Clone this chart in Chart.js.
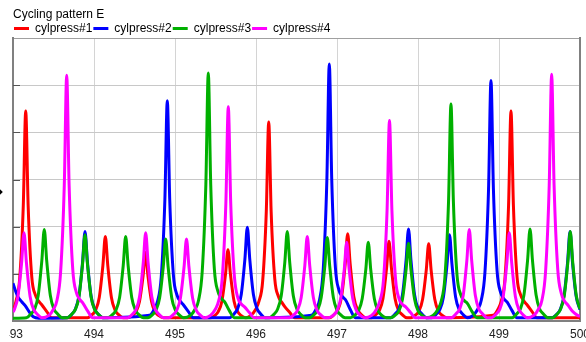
<!DOCTYPE html>
<html>
<head>
<meta charset="utf-8">
<title>Cycling pattern E</title>
<script src="https://cdn.jsdelivr.net/npm/chart.js@4.4.0/dist/chart.umd.min.js"></script>
<style>
    html, body { margin: 0; padding: 0; background: #fff; overflow: hidden; width: 586px; height: 342px; }
    #wrap { position: absolute; left: 9px; top: 0; width: 577px; height: 342px; }
    #mark { position: absolute; left: -2px; top: 190px; width: 4px; height: 4px; background: #000; transform: rotate(45deg); }
</style>
</head>
<body>
<div id="mark"></div>
<div id="wrap"><canvas id="chart" width="577" height="342"></canvas></div>
<script>
/* Cycling pattern E — cylinder pressure traces */

// ---------------------------------------------------------
// Data
// ---------------------------------------------------------
var seriesNames = ['cylpress#1', 'cylpress#2', 'cylpress#3', 'cylpress#4'];
var seriesColors = ['#ff0000', '#0000ff', '#00b000', '#ff00ff'];

var xTicks = [493, 494, 495, 496, 497, 498, 499, 500];
var yTicks = [0, 1, 2, 3, 4, 5, 6];

var cylpress1 = [
    [493.000,0.20],[493.037,0.42],[493.082,0.89],[493.127,2.45],[493.157,4.45],[493.187,2.45],[493.232,0.93],[493.277,0.55],[493.317,0.42],[493.357,0.34],[493.417,0.20],[493.477,0.07],
    [493.920,0.07],[493.980,0.14],[494.020,0.23],[494.065,0.50],[494.110,1.18],[494.140,1.79],[494.170,1.18],[494.215,0.50],[494.260,0.23],[494.300,0.14],[494.360,0.07],
    [494.416,0.07],[494.476,0.12],[494.516,0.19],[494.561,0.41],[494.606,0.96],[494.636,1.45],[494.666,0.96],[494.711,0.41],[494.756,0.19],[494.796,0.12],[494.856,0.07],
    [495.434,0.07],[495.494,0.12],[495.534,0.20],[495.579,0.42],[495.624,1.00],[495.654,1.51],[495.684,1.00],[495.729,0.42],[495.774,0.20],[495.814,0.12],[495.874,0.07],
    [495.937,0.12],[495.997,0.25],[496.037,0.42],[496.082,0.84],[496.127,2.32],[496.157,4.22],[496.187,2.32],[496.232,0.89],[496.277,0.52],[496.317,0.40],[496.357,0.30],[496.417,0.18],[496.477,0.07],
    [496.912,0.07],[496.972,0.15],[497.012,0.24],[497.057,0.52],[497.102,1.22],[497.132,1.85],[497.162,1.22],[497.207,0.52],[497.252,0.24],[497.292,0.15],[497.352,0.07],
    [497.422,0.07],[497.482,0.14],[497.522,0.22],[497.567,0.47],[497.612,1.12],[497.642,1.69],[497.672,1.12],[497.717,0.47],[497.762,0.22],[497.802,0.14],[497.862,0.07],
    [497.912,0.07],[497.972,0.13],[498.012,0.21],[498.057,0.46],[498.102,1.08],[498.132,1.64],[498.162,1.08],[498.207,0.46],[498.252,0.21],[498.292,0.13],[498.352,0.07],
    [498.928,0.12],[498.988,0.25],[499.028,0.42],[499.073,0.89],[499.118,2.45],[499.148,4.45],[499.178,2.45],[499.223,0.93],[499.268,0.55],[499.308,0.42],[499.348,0.34],[499.408,0.20],[499.468,0.07],
    [500.000,0.07]
];

var cylpress2 = [
    [493.000,0.80],[493.035,0.62],[493.065,0.50],[493.107,0.41],[493.148,0.33],[493.210,0.17],[493.250,0.09],[493.320,0.06],
    [493.669,0.07],[493.729,0.15],[493.769,0.25],[493.814,0.53],[493.859,1.25],[493.889,1.90],[493.919,1.25],[493.964,0.53],[494.009,0.25],[494.049,0.15],[494.109,0.07],
    [494.685,0.12],[494.745,0.25],[494.785,0.42],[494.830,0.93],[494.875,2.57],[494.905,4.67],[494.935,2.57],[494.980,0.98],[495.025,0.55],[495.065,0.42],[495.105,0.34],[495.165,0.20],[495.225,0.07],
    [495.673,0.07],[495.733,0.16],[495.773,0.26],[495.818,0.56],[495.863,1.31],[495.893,1.99],[495.923,1.31],[495.968,0.56],[496.013,0.26],[496.053,0.16],[496.113,0.07],
    [496.685,0.12],[496.745,0.26],[496.785,0.45],[496.830,1.09],[496.875,3.00],[496.905,5.45],[496.935,3.00],[496.980,1.14],[497.025,0.65],[497.065,0.52],[497.105,0.45],[497.165,0.24],[497.225,0.07],
    [497.663,0.07],[497.723,0.16],[497.763,0.25],[497.808,0.55],[497.853,1.29],[497.883,1.95],[497.913,1.29],[497.958,0.55],[498.003,0.25],[498.043,0.16],[498.103,0.07],
    [498.169,0.07],[498.229,0.15],[498.269,0.24],[498.314,0.51],[498.359,1.21],[498.389,1.83],[498.419,1.21],[498.464,0.51],[498.509,0.24],[498.549,0.15],[498.609,0.07],
    [498.681,0.12],[498.741,0.26],[498.781,0.44],[498.826,1.02],[498.871,2.80],[498.901,5.10],[498.931,2.80],[498.976,1.07],[499.021,0.60],[499.061,0.47],[499.101,0.40],[499.161,0.22],[499.221,0.07],
    [499.657,0.07],[499.717,0.15],[499.757,0.25],[499.802,0.53],[499.847,1.25],[499.877,1.90],[499.907,1.25],[499.952,0.53],[500.000,0.24]
];

var cylpress3 = [
    [493.000,0.06],
    [493.166,0.07],[493.226,0.16],[493.266,0.25],[493.311,0.54],[493.356,1.28],[493.386,1.94],[493.416,1.28],[493.461,0.54],[493.506,0.25],[493.546,0.16],[493.606,0.07],
    [493.669,0.07],[493.729,0.15],[493.769,0.24],[493.814,0.51],[493.859,1.21],[493.889,1.83],[493.919,1.21],[493.964,0.51],[494.009,0.24],[494.049,0.15],[494.109,0.07],
    [494.171,0.07],[494.231,0.14],[494.271,0.23],[494.316,0.50],[494.361,1.18],[494.391,1.79],[494.421,1.18],[494.466,0.50],[494.511,0.23],[494.551,0.14],[494.611,0.07],
    [494.665,0.07],[494.725,0.14],[494.765,0.23],[494.810,0.49],[494.855,1.15],[494.885,1.74],[494.915,1.15],[494.960,0.49],[495.005,0.23],[495.045,0.14],[495.105,0.07],
    [495.191,0.12],[495.251,0.26],[495.291,0.44],[495.336,1.05],[495.381,2.90],[495.411,5.26],[495.441,2.90],[495.486,1.10],[495.531,0.62],[495.571,0.48],[495.611,0.41],[495.671,0.22],[495.731,0.07],
    [496.166,0.07],[496.226,0.15],[496.266,0.25],[496.311,0.53],[496.356,1.25],[496.386,1.90],[496.416,1.25],[496.461,0.53],[496.506,0.25],[496.546,0.15],[496.606,0.07],
    [496.660,0.07],[496.720,0.14],[496.760,0.23],[496.805,0.50],[496.850,1.17],[496.880,1.77],[496.910,1.17],[496.955,0.50],[497.000,0.23],[497.040,0.14],[497.100,0.07],
    [497.166,0.07],[497.226,0.13],[497.266,0.22],[497.311,0.47],[497.356,1.10],[497.386,1.67],[497.416,1.10],[497.461,0.47],[497.506,0.22],[497.546,0.13],[497.606,0.07],
    [497.663,0.07],[497.723,0.13],[497.763,0.21],[497.808,0.46],[497.853,1.09],[497.883,1.65],[497.913,1.09],[497.958,0.46],[498.003,0.21],[498.043,0.13],[498.103,0.07],
    [498.187,0.12],[498.247,0.25],[498.287,0.42],[498.332,0.92],[498.377,2.53],[498.407,4.60],[498.437,2.53],[498.482,0.97],[498.527,0.56],[498.567,0.44],[498.607,0.38],[498.667,0.20],[498.727,0.07],
    [499.163,0.07],[499.223,0.16],[499.263,0.25],[499.308,0.55],[499.353,1.29],[499.383,1.95],[499.413,1.29],[499.458,0.55],[499.503,0.25],[499.543,0.16],[499.603,0.07],
    [499.660,0.07],[499.720,0.15],[499.760,0.25],[499.805,0.53],[499.850,1.25],[499.880,1.90],[499.910,1.25],[499.955,0.53],[500.000,0.25]
];

var cylpress4 = [
    [493.000,0.19],[493.016,0.24],[493.061,0.52],[493.106,1.23],[493.136,1.87],[493.166,1.23],[493.211,0.52],[493.256,0.24],[493.296,0.15],[493.356,0.07],
    [493.443,0.12],[493.503,0.26],[493.543,0.44],[493.588,1.04],[493.633,2.87],[493.663,5.21],[493.693,2.87],[493.738,1.09],[493.783,0.60],[493.823,0.46],[493.863,0.38],[493.923,0.21],[493.983,0.07],
    [494.418,0.07],[494.478,0.15],[494.518,0.24],[494.563,0.52],[494.608,1.23],[494.638,1.87],[494.668,1.23],[494.713,0.52],[494.758,0.24],[494.798,0.15],[494.858,0.07],
    [494.922,0.07],[494.982,0.14],[495.022,0.23],[495.067,0.49],[495.112,1.15],[495.142,1.74],[495.172,1.15],[495.217,0.49],[495.262,0.23],[495.302,0.14],[495.362,0.07],
    [495.438,0.12],[495.498,0.25],[495.538,0.42],[495.583,0.91],[495.628,2.50],[495.658,4.54],[495.688,2.50],[495.733,0.95],[495.778,0.48],[495.818,0.36],[495.858,0.30],[495.918,0.18],[495.978,0.07],
    [496.413,0.07],[496.473,0.14],[496.513,0.23],[496.558,0.50],[496.603,1.18],[496.633,1.79],[496.663,1.18],[496.708,0.50],[496.753,0.23],[496.793,0.14],[496.853,0.07],
    [496.900,0.07],[496.960,0.13],[497.000,0.22],[497.045,0.47],[497.090,1.10],[497.120,1.67],[497.150,1.10],[497.195,0.47],[497.240,0.22],[497.280,0.13],[497.340,0.07],
    [497.428,0.12],[497.488,0.25],[497.528,0.42],[497.573,0.85],[497.618,2.34],[497.648,4.25],[497.678,2.34],[497.723,0.89],[497.768,0.46],[497.808,0.35],[497.848,0.30],[497.908,0.18],[497.968,0.07],
    [498.413,0.07],[498.473,0.16],[498.513,0.25],[498.558,0.54],[498.603,1.28],[498.633,1.94],[498.663,1.28],[498.708,0.54],[498.753,0.25],[498.793,0.16],[498.853,0.07],
    [498.907,0.07],[498.967,0.15],[499.007,0.24],[499.052,0.52],[499.097,1.23],[499.127,1.87],[499.157,1.23],[499.202,0.52],[499.247,0.24],[499.287,0.15],[499.347,0.07],
    [499.430,0.12],[499.490,0.26],[499.530,0.44],[499.575,1.05],[499.620,2.88],[499.650,5.23],[499.680,2.88],[499.725,1.10],[499.770,0.58],[499.810,0.42],[499.850,0.34],[499.910,0.20],[499.970,0.12],[500.000,0.10]
];

var seriesData = [cylpress1, cylpress2, cylpress3, cylpress4];

// ---------------------------------------------------------
// Chart
// ---------------------------------------------------------
(function () {
    'use strict';

    var FONT = 'Liberation Sans, Arial, sans-serif';

    // Legend: keep the title and legend rows tight above the plot.
    var legendHeight = {
        id: 'legendHeight',
        afterInit: function (chart) {
            var lg = chart.legend;
            if (!lg) return;
            var fit = lg.fit;
            lg.fit = function () {
                fit.call(this);
                this.height = 16.6;
            };
        }
    };

    // Short dark tick marks on the inside of the left axis.
    var innerTicks = {
        id: 'innerTicks',
        beforeDatasetsDraw: function (chart) {
            var ctx = chart.ctx, area = chart.chartArea, y = chart.scales.y;
            ctx.save();
            ctx.strokeStyle = '#555';
            ctx.lineWidth = 1;
            yTicks.forEach(function (v) {
                if (v <= yTicks[0] || v >= yTicks[yTicks.length - 1]) return;
                var py = Math.round(y.getPixelForValue(v)) + 0.5;
                ctx.beginPath();
                ctx.moveTo(area.left, py);
                ctx.lineTo(area.left + 7, py);
                ctx.stroke();
            });
            ctx.restore();
        }
    };

    var datasets = seriesData.map(function (d, i) {
        return {
            label:           seriesNames[i],
            data:            d,
            borderColor:     seriesColors[i],
            backgroundColor: seriesColors[i],
            borderWidth:     3,
            pointRadius:     0,
            cubicInterpolationMode: 'monotone',
            order:           seriesNames.length - i
        };
    });

    new Chart(document.getElementById('chart'), {
        type: 'line',
        data: { datasets: datasets },
        plugins: [legendHeight, innerTicks],
        options: {
            responsive: false,
            animation: false,
            events: [],
            layout: { padding: { left: 4, right: 6, top: 0, bottom: 0 } },
            plugins: {
                title: {
                    display: true,
                    text: 'Cycling pattern E',
                    align: 'start',
                    color: '#000',
                    font: { family: FONT, size: 12, weight: 'normal' },
                    padding: { top: 7, bottom: 0 }
                },
                legend: {
                    position: 'top',
                    align: 'start',
                    labels: {
                        boxWidth: 15,
                        boxHeight: 3,
                        padding: 1,
                        color: '#000',
                        font: { family: FONT, size: 12 },
                        generateLabels: function (chart) {
                            return chart.data.datasets.map(function (ds, i) {
                                return {
                                    text: ds.label,
                                    fillStyle: ds.borderColor,
                                    strokeStyle: ds.borderColor,
                                    lineWidth: 0,
                                    fontColor: '#000',
                                    hidden: false,
                                    datasetIndex: i
                                };
                            });
                        }
                    }
                },
                tooltip: { enabled: false }
            },
            scales: {
                x: {
                    type: 'linear',
                    min: xTicks[0],
                    max: xTicks[xTicks.length - 1],
                    afterBuildTicks: function (scale) {
                        scale.ticks = xTicks.map(function (v) { return { value: v }; });
                    },
                    afterFit: function (scale) {
                        scale.paddingLeft = 0;
                        scale.paddingRight = 0;
                        scale.height = 21;
                    },
                    grid: { color: '#d4d4d4', lineWidth: 1, drawTicks: false },
                    border: { color: '#808080', width: 2 },
                    ticks: {
                        color: '#222',
                        font: { family: FONT, size: 12 },
                        padding: 6,
                        maxRotation: 0,
                        autoSkip: false
                    }
                },
                y: {
                    min: yTicks[0],
                    max: yTicks[yTicks.length - 1],
                    afterBuildTicks: function (scale) {
                        scale.ticks = yTicks.map(function (v) { return { value: v }; });
                    },
                    grid: {
                        color: function (ctx) {
                            return ctx.tick && ctx.tick.value === yTicks[yTicks.length - 1] ? '#a0a0a0' : '#c8c8c8';
                        },
                        lineWidth: 1,
                        drawTicks: false
                    },
                    border: { color: '#808080', width: 2 },
                    ticks: { display: false }
                },
                y2: {
                    position: 'right',
                    min: yTicks[0],
                    max: yTicks[yTicks.length - 1],
                    grid: { drawOnChartArea: false, drawTicks: false },
                    border: { color: '#808080', width: 2 },
                    ticks: { display: false }
                }
            }
        }
    });
}());
</script>
</body>
</html>
